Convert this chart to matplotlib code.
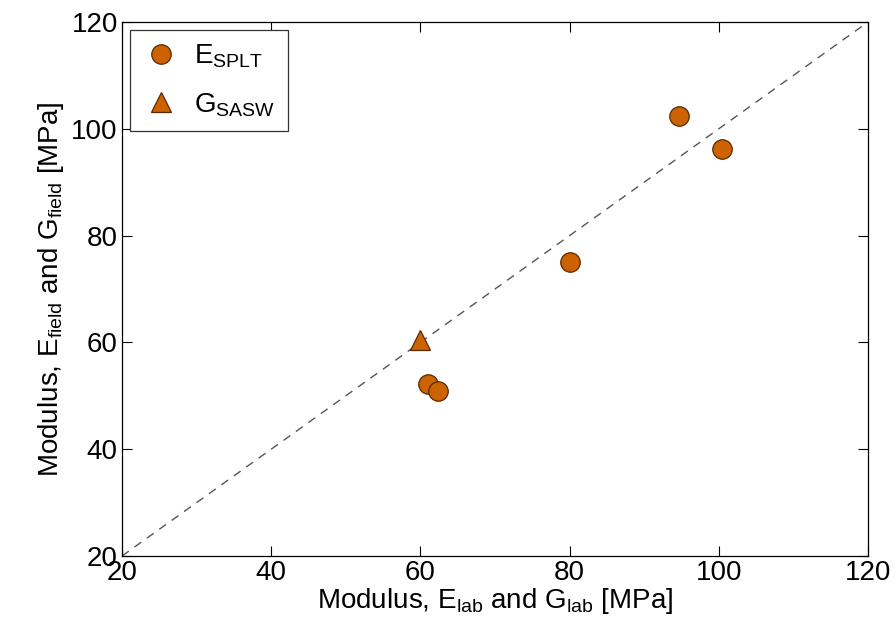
import matplotlib
matplotlib.use("Agg")
import matplotlib.pyplot as plt
import numpy as np

plt.rcParams['font.family'] = ['Liberation Sans', 'DejaVu Sans']
plt.rcParams['mathtext.fontset'] = 'custom'
plt.rcParams['mathtext.rm'] = 'Liberation Sans'
plt.rcParams['mathtext.it'] = 'Liberation Sans'
plt.rcParams['mathtext.default'] = 'regular'

# Data
e_lab = [80.1, 94.6, 100.4, 61.0, 62.4]
e_field = [75.0, 102.4, 96.3, 52.2, 50.9]
g_lab = [60.0]
g_field = [60.4]
line_range = [20, 120]
ticks = [20, 40, 60, 80, 100, 120]

fill = '#CC6200'
edge = '#5A2800'

fig = plt.figure(figsize=(8.96, 6.33), dpi=100)
ax = fig.add_axes([122/896, 1 - 556/633, (868-122)/896, (556-22)/633])

ax.plot(line_range, line_range, linestyle=(0, (6, 5)), color='#555555', linewidth=1.0, zorder=1)
ax.plot(e_lab, e_field, 'o', markersize=14, markerfacecolor=fill, markeredgecolor=edge,
        markeredgewidth=0.9, linestyle='none', label=r'E$_{SPLT}$', zorder=3)
ax.plot(g_lab, g_field, '^', markersize=14, markerfacecolor=fill, markeredgecolor=edge,
        markeredgewidth=0.9, linestyle='none', label=r'G$_{SASW}$', zorder=3)

ax.set_xlim(20, 120)
ax.set_ylim(20, 120)
ax.set_xticks(ticks)
ax.set_yticks(ticks)
ax.tick_params(direction='in', top=True, right=True, length=7, width=0.8, labelsize=20, pad=3)
for s in ax.spines.values():
    s.set_linewidth(0.9)

ax.set_xlabel(r'Modulus, E$_{lab}$ and G$_{lab}$ [MPa]', fontsize=20, labelpad=0)
ax.set_ylabel(r'Modulus, E$_{field}$ and G$_{field}$ [MPa]', fontsize=20, labelpad=4)

leg = ax.legend(loc='upper left', fontsize=20, frameon=True, fancybox=False,
                edgecolor='#333333', framealpha=1, borderpad=0.45, handletextpad=0.55,
                labelspacing=0.75, handlelength=1.3, bbox_to_anchor=(0.0, 1.0),
                borderaxespad=0.3)
leg.get_frame().set_linewidth(0.9)

fig.savefig('out.png', dpi=100)
